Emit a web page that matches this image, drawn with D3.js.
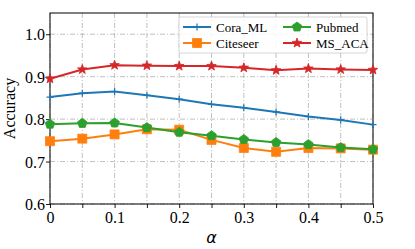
<!DOCTYPE html>
<html><head><meta charset="utf-8">
<script src="https://cdn.jsdelivr.net/npm/d3@7"></script>
<style>body{margin:0;background:#fff}svg{display:block}</style>
</head><body><svg id="c" width="415" height="249"></svg>
<script>
const alphas = [0, 0.05, 0.1, 0.15, 0.2, 0.25, 0.3, 0.35, 0.4, 0.45, 0.5];
const coraML = [0.852, 0.861, 0.865, 0.856, 0.847, 0.835, 0.827, 0.817, 0.806, 0.798, 0.787];
const citeseer = [0.748, 0.754, 0.764, 0.776, 0.775, 0.751, 0.732, 0.723, 0.732, 0.731, 0.728];
const pubmed = [0.788, 0.790, 0.791, 0.780, 0.769, 0.761, 0.752, 0.745, 0.740, 0.733, 0.729];
const msACA = [0.895, 0.917, 0.927, 0.926, 0.925, 0.925, 0.921, 0.915, 0.919, 0.917, 0.916];
const seriesNames = ["Cora_ML", "Citeseer", "Pubmed", "MS_ACA"];
const xTicks = [0, 0.1, 0.2, 0.3, 0.4, 0.5];
const xGrid = [0, 0.05, 0.1, 0.15, 0.2, 0.25, 0.3, 0.35, 0.4, 0.45, 0.5];
const yTicks = [0.6, 0.7, 0.8, 0.9, 1.0];

const colors = ["#1f77b4", "#ff7f0e", "#2ca02c", "#d62728"];
const markers = ["plus", "square", "pentagon", "star"];
const data = [coraML, citeseer, pubmed, msACA];

const L = 50, R = 373, T = 13, B = 204;
const svg = d3.select("#c");
const x = d3.scaleLinear().domain([0, 0.5]).range([L, R]);
const y = d3.scaleLinear().domain([0.6, 1.05]).range([B, T]);
const serif = "'Liberation Serif','Times New Roman',serif";

// grid
svg.append("g").selectAll("line").data(xGrid).join("line")
  .attr("x1", d => x(d)).attr("x2", d => x(d)).attr("y1", T).attr("y2", B)
  .attr("stroke", "#b0b0b0").attr("stroke-width", 0.8).attr("stroke-dasharray", "5,2,1,2");
svg.append("g").selectAll("line").data(yTicks).join("line")
  .attr("x1", L).attr("x2", R).attr("y1", d => y(d)).attr("y2", d => y(d))
  .attr("stroke", "#b0b0b0").attr("stroke-width", 0.8).attr("stroke-dasharray", "5,2,1,2");

// axes
const xAxis = svg.append("g").attr("transform", `translate(0,${B})`)
  .call(d3.axisBottom(x).tickValues(xGrid).tickSize(4).tickSizeOuter(0)
    .tickFormat(d => xTicks.some(t => Math.abs(t - d) < 1e-9) ? (d === 0 ? "0" : d3.format(".1f")(d)) : ""));
const yAxis = svg.append("g").attr("transform", `translate(${L},0)`)
  .call(d3.axisLeft(y).tickValues(yTicks).tickSize(4).tickSizeOuter(0).tickFormat(d3.format(".1f")));
[xAxis, yAxis].forEach(a => {
  a.select(".domain").remove();
  a.selectAll("line").attr("stroke", "#000").attr("stroke-width", 0.9);
  a.selectAll("text").attr("font-family", serif).attr("font-size", 16).attr("fill", "#000");
});
xAxis.selectAll("text").attr("dy", "0.85em").attr("y", 5);
yAxis.selectAll("text").attr("x", -5).attr("dy", "0.35em");

// frame
svg.append("rect").attr("x", L).attr("y", T).attr("width", R - L).attr("height", B - T)
  .attr("fill", "none").attr("stroke", "#000").attr("stroke-width", 1);

function markerPath(type, s) {
  if (type === "plus") return `M${-s},0L${s},0M0,${-s}L0,${s}`;
  if (type === "square") return `M${-s},${-s}H${s}V${s}H${-s}Z`;
  if (type === "pentagon") {
    const p = d3.range(5).map(i => { const a = -Math.PI / 2 + i * 2 * Math.PI / 5; return [s * Math.cos(a), s * Math.sin(a)]; });
    return "M" + p.map(q => q.join(",")).join("L") + "Z";
  }
  if (type === "star") {
    const p = d3.range(10).map(i => { const r = i % 2 ? s * 0.42 : s; const a = -Math.PI / 2 + i * Math.PI / 5; return [r * Math.cos(a), r * Math.sin(a)]; });
    return "M" + p.map(q => q.join(",")).join("L") + "Z";
  }
}
const msize = [3.5, 4.5, 5, 5];

const line = d3.line().x((d, i) => x(alphas[i])).y(d => y(d));
data.forEach((vals, k) => {
  const g = svg.append("g");
  g.append("path").datum(vals).attr("d", line).attr("fill", "none")
    .attr("stroke", colors[k]).attr("stroke-width", 2);
  g.selectAll("path.m").data(vals).join("path").attr("class", "m")
    .attr("transform", (d, i) => `translate(${x(alphas[i])},${y(d)})`)
    .attr("d", markerPath(markers[k], msize[k]))
    .attr("fill", colors[k]).attr("stroke", colors[k]).attr("stroke-width", markers[k] === "plus" ? 1.2 : 0.8);
});

// legend
const lg = svg.append("g");
lg.append("rect").attr("x", 179).attr("y", 17).attr("width", 188).attr("height", 36).attr("rx", 2)
  .attr("fill", "#fff").attr("fill-opacity", 0.85).attr("stroke", "#cccccc").attr("stroke-width", 0.8);
const pos = [[183, 27], [183, 43], [283, 27], [283, 43]];
seriesNames.forEach((n, k) => {
  const [lx, ly] = pos[k];
  lg.append("line").attr("x1", lx).attr("x2", lx + 28).attr("y1", ly).attr("y2", ly)
    .attr("stroke", colors[k]).attr("stroke-width", 2);
  lg.append("path").attr("transform", `translate(${lx + 14},${ly})`).attr("d", markerPath(markers[k], msize[k]))
    .attr("fill", colors[k]).attr("stroke", colors[k]).attr("stroke-width", markers[k] === "plus" ? 1.2 : 0.8);
  lg.append("text").attr("x", lx + 33).attr("y", ly).attr("dy", "0.35em").text(n)
    .attr("font-family", serif).attr("font-size", 13).attr("fill", "#000");
});

// labels
svg.append("text").attr("transform", `translate(15,${(T + B) / 2}) rotate(-90)`)
  .attr("text-anchor", "middle").attr("font-family", serif).attr("font-size", 16).text("Accuracy");
svg.append("text").attr("x", (L + R) / 2).attr("y", 243).attr("text-anchor", "middle")
  .attr("font-family", "'DejaVu Sans',sans-serif").attr("font-style", "italic").attr("font-size", 16).text("α");
</script></body></html>
